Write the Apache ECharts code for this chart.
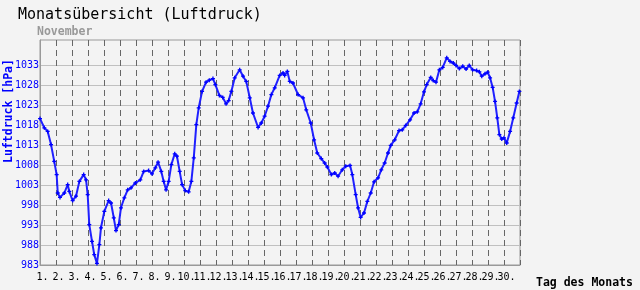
<!DOCTYPE html>
<html>
<head>
<meta charset="utf-8">
<script src="https://cdn.jsdelivr.net/npm/echarts@6/dist/echarts.min.js"></script>
<style>
html,body{margin:0;padding:0;background:#f3f3f3;}
#c{width:640px;height:290px;}
</style>
</head>
<body>
<div id="c"></div>
<script>
// Time in days of the month (fractional) and pressure in hPa
var days = [1.00,1.27,1.48,1.69,1.89,2.04,2.11,2.25,2.52,2.73,2.83,3.04,3.25,3.46,3.73,3.88,3.98,4.08,4.25,4.39,4.56,4.71,4.81,5.02,5.29,5.44,5.61,5.75,5.92,6.06,6.27,6.48,6.69,6.96,7.27,7.48,7.79,8.00,8.21,8.38,8.58,8.73,8.88,9.04,9.21,9.42,9.56,9.73,9.88,10.08,10.29,10.46,10.61,10.77,10.92,11.13,11.38,11.58,11.81,11.96,12.21,12.42,12.63,12.79,12.96,13.17,13.48,13.69,13.89,14.11,14.31,14.63,14.83,15.04,15.25,15.46,15.67,15.98,16.19,16.29,16.46,16.61,16.81,17.13,17.44,17.64,17.92,18.13,18.33,18.58,18.79,18.96,19.21,19.42,19.63,19.89,20.11,20.38,20.52,20.73,20.88,21.04,21.25,21.46,21.67,21.88,22.13,22.33,22.54,22.75,22.92,23.17,23.44,23.64,23.86,24.13,24.38,24.58,24.79,25.00,25.17,25.42,25.58,25.75,25.96,26.17,26.42,26.63,26.83,27.00,27.21,27.42,27.63,27.83,28.04,28.29,28.46,28.61,28.81,28.98,29.13,29.29,29.44,29.58,29.71,29.86,30.00,30.17,30.38,30.58,30.79,30.96];
var pressure = [1019.6,1017.3,1016.4,1013.1,1008.9,1005.6,1001.0,999.9,1001.0,1003.1,1001.4,999.1,1000.2,1003.9,1005.6,1004.3,1000.6,993.1,988.9,985.6,983.4,988.1,992.3,996.4,999.1,998.5,994.8,991.6,993.1,997.3,999.8,1001.8,1002.3,1003.5,1004.3,1006.4,1006.6,1005.8,1007.3,1008.7,1006.4,1003.9,1001.8,1003.9,1008.1,1010.8,1010.2,1006.4,1003.1,1001.6,1001.3,1003.9,1009.8,1018.1,1022.3,1026.4,1028.7,1029.2,1029.6,1028.1,1025.4,1024.9,1023.3,1024.1,1026.4,1029.8,1031.8,1030.2,1028.9,1024.8,1021.0,1017.4,1018.5,1020.2,1022.7,1025.6,1027.3,1030.4,1031.0,1030.4,1031.4,1028.9,1028.5,1025.6,1024.8,1021.8,1018.5,1014.3,1011.0,1009.6,1008.5,1007.5,1005.6,1006.0,1005.2,1006.8,1007.7,1007.9,1005.6,1000.6,997.3,994.9,996.0,998.9,1001.0,1003.8,1004.8,1006.8,1008.5,1011.0,1012.9,1014.3,1016.6,1016.8,1017.9,1019.3,1021.0,1021.3,1023.3,1026.3,1028.1,1029.9,1029.1,1028.7,1031.8,1032.4,1034.8,1033.9,1033.5,1032.9,1032.1,1032.7,1032.0,1032.9,1031.8,1031.6,1031.3,1030.2,1030.8,1031.2,1029.8,1027.4,1023.9,1019.8,1015.6,1014.5,1014.8,1013.5,1016.4,1019.8,1023.5,1026.4];
var yTicks = [983,988,993,998,1003,1008,1013,1018,1023,1028,1033];
var titleText = 'Monatsübersicht (Luftdruck)';
var monthText = 'November';
var yName = 'Luftdruck [hPa]';
var xName = 'Tag des Monats';

var mono = 'DejaVu Sans Mono';
var points = days.map(function(d, i){ return [d, pressure[i]]; });

var chart = echarts.init(document.getElementById('c'), null, {renderer:'canvas'});
chart.setOption({
  animation: false,
  backgroundColor: '#f3f3f3',
  title: [
    {text: titleText, left: 18, top: 8, padding: 0,
     textStyle: {fontFamily: mono, fontSize: 15, fontWeight: 'normal', color: '#000'}},
    {text: monthText, left: 37, top: 26, padding: 0,
     textStyle: {fontFamily: mono, fontSize: 11.5, fontWeight: 'bold', color: '#999'}}
  ],
  graphic: [{
    type: 'text', x: 9, y: 111, rotation: Math.PI / 2, silent: true,
    style: {text: yName, fill: '#0000ff', align: 'center', verticalAlign: 'middle',
            font: 'bold 11.5px "DejaVu Sans Mono"'}
  }],
  grid: {left: 40, right: 120, top: 40, bottom: 25, show: true, containLabel: false,
         outerBoundsMode: 'none',
         borderColor: '#999', borderWidth: 1, backgroundColor: 'transparent'},
  xAxis: {
    type: 'value', min: 1, max: 31, interval: 1,
    name: xName, nameLocation: 'end', nameGap: 16,
    nameTextStyle: {fontFamily: mono, fontSize: 11.5, fontWeight: 'bold', color: '#000',
                    align: 'left', verticalAlign: 'top', padding: [12,0,0,0]},
    axisLine: {show: true, lineStyle: {color: '#999'}},
    axisTick: {show: false},
    axisLabel: {fontFamily: mono, fontSize: 10, color: '#000', margin: 7,
                padding: [0,0,0,5], hideOverlap: false,
                formatter: function(v){ return v < 31 ? (v + '.') : ''; }},
    splitLine: {show: true, lineStyle: {color: '#666', type: [6,4], width: 1}}
  },
  yAxis: {
    type: 'value', min: 983, max: 1039.25, interval: 5,
    axisLine: {show: true, lineStyle: {color: '#999'}},
    axisTick: {show: false},
    axisLabel: {fontFamily: mono, fontSize: 10, color: '#0000ff', margin: 1,
                formatter: function(v){ return yTicks.indexOf(v) >= 0 ? String(v) : ''; }},
    splitLine: {show: true, lineStyle: {color: ['#c0c0c0','#c0c0c0','#c0c0c0','#c0c0c0','#c0c0c0','#c0c0c0','#c0c0c0','#c0c0c0','#c0c0c0','#c0c0c0','#c0c0c0','rgba(0,0,0,0)','rgba(0,0,0,0)'], width: 1}}
  },
  series: [{
    type: 'line', data: points, showSymbol: true, showAllSymbol: true,
    symbol: 'path://M1 0H2V1H3V2H2V3H1V2H0V1H1Z', symbolSize: 4,
    itemStyle: {color: '#0000ff'},
    lineStyle: {color: '#2020ff', width: 2},
    z: 3
  }]
});
</script>
</body>
</html>
